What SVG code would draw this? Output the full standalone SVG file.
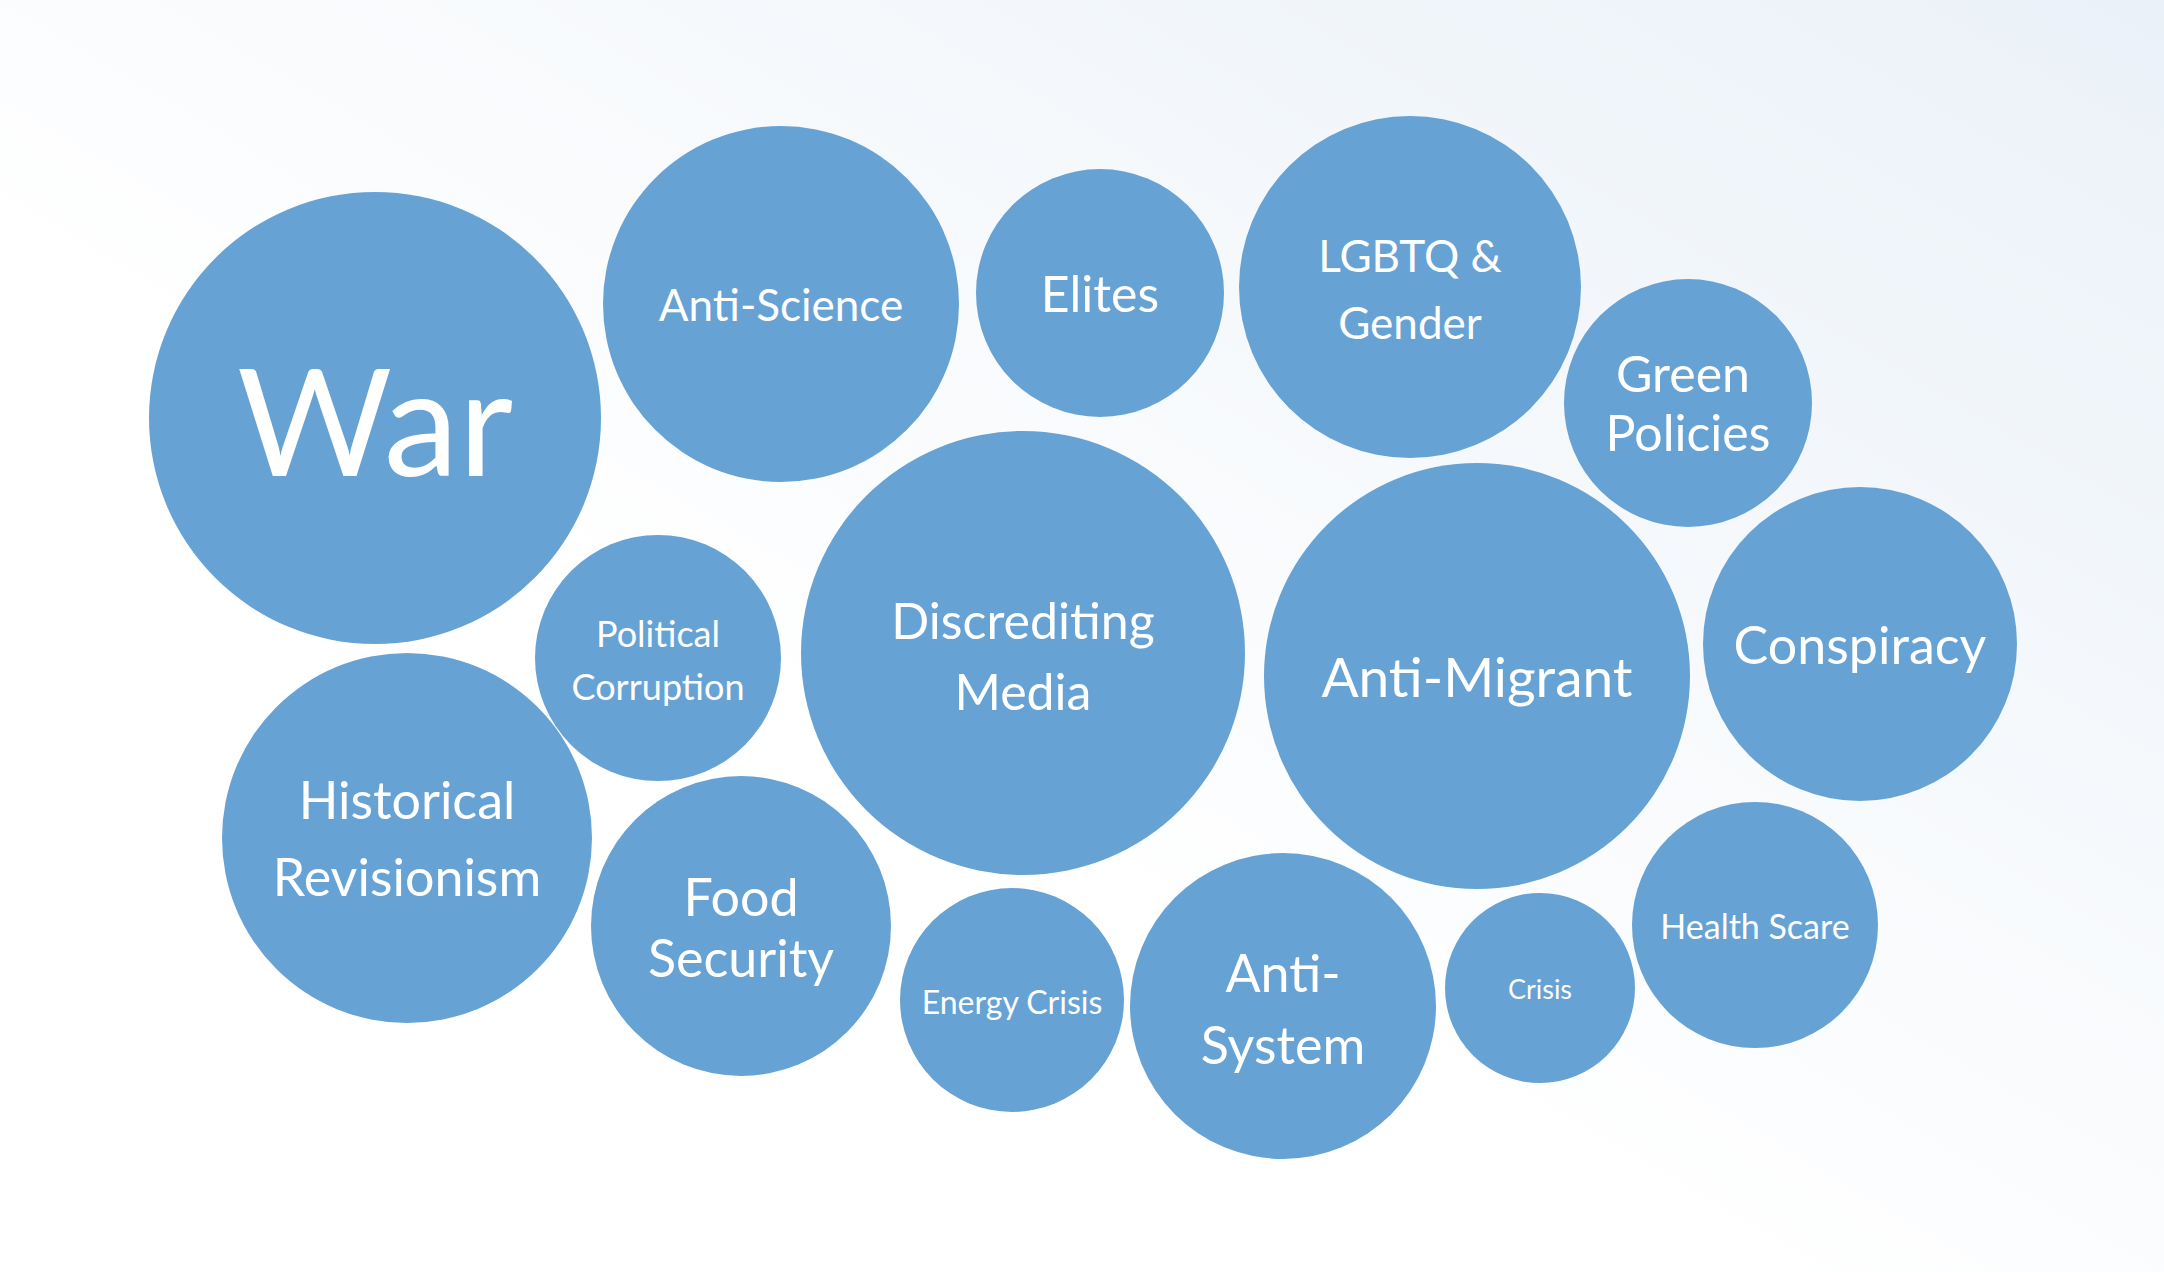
<svg xmlns="http://www.w3.org/2000/svg" width="2164" height="1272" viewBox="0 0 2164 1272">
<defs>
<linearGradient id="bg" x1="0" y1="1" x2="1" y2="0">
<stop offset="0.4" stop-color="#ffffff"/><stop offset="1" stop-color="#eaf1f8"/>
</linearGradient>
<style>
.b{fill:#67a2d5}
text{fill:#fff;font-family:Lato,"Open Sans",sans-serif;text-anchor:middle;dominant-baseline:central}
</style>
</defs>
<rect width="2164" height="1272" fill="url(#bg)"/>
<g id="war"><circle class="b" cx="375" cy="418" r="226"/><text x="375" y="418" font-size="150">War</text></g>
<g id="anti-science"><circle class="b" cx="781" cy="304" r="178"/><text x="781" y="304" font-size="44">Anti-Science</text></g>
<g id="elites"><circle class="b" cx="1100" cy="293" r="124"/><text x="1100" y="293" font-size="50">Elites</text></g>
<g id="lgbtq"><circle class="b" cx="1410" cy="287" r="171"/><text x="1410" y="255" font-size="44">LGBTQ &amp;</text><text x="1410" y="322" font-size="44">Gender</text></g>
<g id="green"><circle class="b" cx="1688" cy="403" r="124"/><text x="1683" y="373" font-size="50">Green</text><text x="1688" y="432" font-size="50">Policies</text></g>
<g id="political"><circle class="b" cx="658" cy="658" r="123"/><text x="658" y="633" font-size="36">Political</text><text x="658" y="686" font-size="36">Corruption</text></g>
<g id="media"><circle class="b" cx="1023" cy="653" r="222"/><text x="1023" y="620" font-size="50">Discrediting</text><text x="1023" y="691" font-size="50">Media</text></g>
<g id="migrant"><circle class="b" cx="1477" cy="676" r="213"/><text x="1477" y="676" font-size="55">Anti-Migrant</text></g>
<g id="conspiracy"><circle class="b" cx="1860" cy="644" r="157"/><text x="1860" y="644" font-size="52">Conspiracy</text></g>
<g id="historical"><circle class="b" cx="407" cy="838" r="185"/><text x="407" y="799" font-size="52">Historical</text><text x="407" y="876" font-size="52">Revisionism</text></g>
<g id="food"><circle class="b" cx="741" cy="926" r="150"/><text x="741" y="896" font-size="52">Food</text><text x="741" y="957" font-size="52">Security</text></g>
<g id="energy"><circle class="b" cx="1012" cy="1000" r="112"/><text x="1012" y="1001" font-size="32">Energy Crisis</text></g>
<g id="anti-system"><circle class="b" cx="1283" cy="1006" r="153"/><text x="1283" y="972" font-size="52">Anti-</text><text x="1283" y="1044" font-size="52">System</text></g>
<g id="crisis"><circle class="b" cx="1540" cy="988" r="95"/><text x="1540" y="988" font-size="27">Crisis</text></g>
<g id="health"><circle class="b" cx="1755" cy="925" r="123"/><text x="1755" y="925" font-size="34">Health Scare</text></g>
<g id="connectors"/>
</svg>
